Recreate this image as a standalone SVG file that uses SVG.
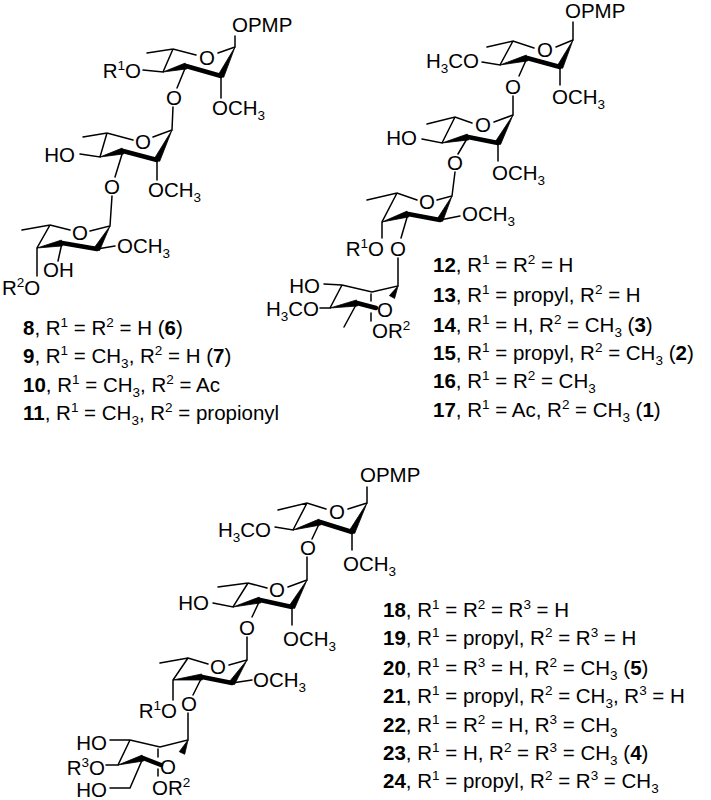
<svg xmlns="http://www.w3.org/2000/svg" width="711" height="800" viewBox="0 0 711 800">
<style>
.b{stroke:#000;stroke-width:1.5;fill:none;stroke-linecap:round}
.k{stroke:#000;stroke-width:4.5;fill:none;stroke-linecap:round}
.w{fill:#000;stroke:#000;stroke-width:0.8;stroke-linejoin:round}
text{font-family:"Liberation Sans",Arial,sans-serif;font-size:20.5px;fill:#000}
.m{text-anchor:middle}
.e{text-anchor:end}
.s{font-size:13.5px}
.n{font-weight:bold}
</style>
<rect width="711" height="800" fill="#fff"/>
<g id="compound-8-11">
<g id="s1-bonds">
<path class="b" d="M235,47V36M235,47L218,53M196,55L173,49L147,53M173,49L163,72L143,70M186,66L177,88M221,76V98"/>
<polygon class="w" points="163,72 186.8,68.9 185.2,63.1"/><path class="k" d="M186,66L221,76"/><polygon class="w" points="235,47 218.3,74.7 223.7,77.3"/>
<path class="b" d="M173,107L172,130L153,137M133,140L107,133L83,137M107,133L100,157L80,154M123,151L115,177M157,160V180"/>
<polygon class="w" points="100,157 123.8,153.9 122.2,148.1"/><path class="k" d="M123,151L157,160"/><polygon class="w" points="172,130 154.3,158.7 159.7,161.3"/>
<path class="b" d="M112,196L110,226L90,231M70,230L50,225L22,230M50,225L37,248V276M62,243L58,261M97,249L115,246"/>
<polygon class="w" points="37,248 62.6,245.9 61.4,240.1"/><path class="k" d="M62,243L97,249"/><polygon class="w" points="110,226 94.4,247.5 99.6,250.5"/>
</g>
<text x="232" y="32">OPMP</text>
<text class="m" x="207" y="64.5">O</text>
<text class="e" x="141" y="78">R<tspan class="s" dy="-8">1</tspan><tspan dy="8">O</tspan></text>
<text class="m" x="174" y="105">O</text>
<text x="212" y="115">OCH<tspan class="s" dy="5">3</tspan></text>
<text class="m" x="143" y="149">O</text>
<text class="e" x="75" y="162">HO</text>
<text class="m" x="112" y="194">O</text>
<text x="148" y="197">OCH<tspan class="s" dy="5">3</tspan></text>
<text class="m" x="80" y="240">O</text>
<text x="117" y="253">OCH<tspan class="s" dy="5">3</tspan></text>
<text x="43" y="277">OH</text>
<text x="2" y="295">R<tspan class="s" dy="-8">2</tspan><tspan dy="8">O</tspan></text>
<text x="23" y="335"><tspan class="n">8</tspan>, R<tspan class="s" dy="-8">1</tspan><tspan dy="8"> = R</tspan><tspan class="s" dy="-8">2</tspan><tspan dy="8"> = H (</tspan><tspan class="n">6</tspan>)</text>
<text x="23" y="363"><tspan class="n">9</tspan>, R<tspan class="s" dy="-8">1</tspan><tspan dy="8"> = CH</tspan><tspan class="s" dy="5">3</tspan><tspan dy="-5">, R</tspan><tspan class="s" dy="-8">2</tspan><tspan dy="8"> = H (</tspan><tspan class="n">7</tspan>)</text>
<text x="23" y="392"><tspan class="n">10</tspan>, R<tspan class="s" dy="-8">1</tspan><tspan dy="8"> = CH</tspan><tspan class="s" dy="5">3</tspan><tspan dy="-5">, R</tspan><tspan class="s" dy="-8">2</tspan><tspan dy="8"> = Ac</tspan></text>
<text x="23" y="420"><tspan class="n">11</tspan>, R<tspan class="s" dy="-8">1</tspan><tspan dy="8"> = CH</tspan><tspan class="s" dy="5">3</tspan><tspan dy="-5">, R</tspan><tspan class="s" dy="-8">2</tspan><tspan dy="8"> = propionyl</tspan></text>
</g>
<g id="compound-12-17">
<g id="s2-bonds">
<path class="b" d="M573,40V22M573,40L556,47M534,48L513,41L487,47M513,41L500,65L482,62M527,58L519,76M560,67V85"/>
<polygon class="w" points="500,65 527.75,60.9 526.25,55.1"/><path class="k" d="M527,58L560,67"/><polygon class="w" points="573,40 557.3,65.7 562.7,68.3"/>
<path class="b" d="M513,96V115L494,122M472,123L455,117L427,124M455,117L442,143L422,139M468,137L458,154M498,143V161"/>
<polygon class="w" points="442,143 468.7,139.9 467.3,134.1"/><path class="k" d="M468,137L498,143"/><polygon class="w" points="513,115 495.4,141.6 500.6,144.4"/>
<path class="b" d="M455,172L452,196L437,200M417,200L397,193L367,200M397,193L382,222V238M408,214L401,238M440,220L460,216"/>
<polygon class="w" points="382,222 408.9,216.9 407.1,211.1"/><path class="k" d="M408,214L440,220"/><polygon class="w" points="452,196 437.3,218.7 442.7,221.3"/>
<path class="b" d="M398,258V286L372,292L342,285L324,284M342,285L330,308L320,308M357,303L344,327M371,294V301M371,313V321"/>
<polygon class="w" points="398,286 389.4,295.6 394.6,298.4"/><polygon class="w" points="330,308 357.5,306 356.5,300"/><path class="k" d="M357,303L376,308"/>
</g>
<text x="565" y="18">OPMP</text>
<text class="m" x="545" y="57">O</text>
<text class="e" x="479" y="68">H<tspan class="s" dy="5">3</tspan><tspan dy="-5">CO</tspan></text>
<text class="m" x="513" y="94">O</text>
<text x="552" y="104">OCH<tspan class="s" dy="5">3</tspan></text>
<text class="m" x="483" y="132">O</text>
<text class="e" x="417" y="145">HO</text>
<text class="m" x="455" y="170">O</text>
<text x="492" y="180">OCH<tspan class="s" dy="5">3</tspan></text>
<text class="m" x="427" y="209">O</text>
<text x="462" y="221">OCH<tspan class="s" dy="5">3</tspan></text>
<text class="e" x="384" y="256">R<tspan class="s" dy="-8">1</tspan><tspan dy="8">O</tspan></text>
<text class="m" x="398" y="256">O</text>
<text class="e" x="320" y="293">HO</text>
<text class="e" x="319" y="316">H<tspan class="s" dy="5">3</tspan><tspan dy="-5">CO</tspan></text>
<text class="m" x="385" y="317">O</text>
<text x="372" y="338">OR<tspan class="s" dy="-8">2</tspan></text>
<text x="433" y="272"><tspan class="n">12</tspan>, R<tspan class="s" dy="-8">1</tspan><tspan dy="8"> = R</tspan><tspan class="s" dy="-8">2</tspan><tspan dy="8"> = H</tspan></text>
<text x="433" y="302"><tspan class="n">13</tspan>, R<tspan class="s" dy="-8">1</tspan><tspan dy="8"> = propyl, R</tspan><tspan class="s" dy="-8">2</tspan><tspan dy="8"> = H</tspan></text>
<text x="433" y="332"><tspan class="n">14</tspan>, R<tspan class="s" dy="-8">1</tspan><tspan dy="8"> = H, R</tspan><tspan class="s" dy="-8">2</tspan><tspan dy="8"> = CH</tspan><tspan class="s" dy="5">3</tspan><tspan dy="-5"> (</tspan><tspan class="n">3</tspan>)</text>
<text x="433" y="360"><tspan class="n">15</tspan>, R<tspan class="s" dy="-8">1</tspan><tspan dy="8"> = propyl, R</tspan><tspan class="s" dy="-8">2</tspan><tspan dy="8"> = CH</tspan><tspan class="s" dy="5">3</tspan><tspan dy="-5"> (</tspan><tspan class="n">2</tspan>)</text>
<text x="433" y="388"><tspan class="n">16</tspan>, R<tspan class="s" dy="-8">1</tspan><tspan dy="8"> = R</tspan><tspan class="s" dy="-8">2</tspan><tspan dy="8"> = CH</tspan><tspan class="s" dy="5">3</tspan></text>
<text x="433" y="417"><tspan class="n">17</tspan>, R<tspan class="s" dy="-8">1</tspan><tspan dy="8"> = Ac, R</tspan><tspan class="s" dy="-8">2</tspan><tspan dy="8"> = CH</tspan><tspan class="s" dy="5">3</tspan><tspan dy="-5"> (</tspan><tspan class="n">1</tspan>)</text>
</g>
<g id="compound-18-24">
<g id="s3-bonds">
<path class="b" d="M367,503V487M367,503L348,509M326,509L307,503L278,510M307,503L293,530L275,527M320,522L312,539M352,532V550"/>
<polygon class="w" points="293,530 320.9,524.9 319.1,519.1"/><path class="k" d="M320,522L352,532"/><polygon class="w" points="367,503 349.3,530.6 354.7,533.4"/>
<path class="b" d="M307,557V580L288,587M267,588L248,583L218,587M248,583L233,607L213,603M260,600L252,617M292,607V625"/>
<polygon class="w" points="233,607 260.75,602.9 259.25,597.1"/><path class="k" d="M260,600L292,607"/><polygon class="w" points="307,580 289.4,605.5 294.6,608.5"/>
<path class="b" d="M247,637V660L229,665M208,664L188,658L160,663M188,658L173,680V700M202,677L193,695M232,683L252,680"/>
<polygon class="w" points="173,680 202.3,680 201.7,674"/><path class="k" d="M202,677L232,683"/><polygon class="w" points="247,660 229.5,681.4 234.5,684.6"/>
<path class="b" d="M188,713V740L160,747L130,740L110,740M130,740L118,765L106,765M143,758L130,788L110,788M158,749V757M158,769V776"/>
<polygon class="w" points="188,740 179.3,751.7 184.7,754.3"/><polygon class="w" points="118,765 143.8,760.9 142.2,755.1"/><path class="k" d="M143,758L161,765"/>
</g>
<text x="360" y="482">OPMP</text>
<text class="m" x="337" y="519">O</text>
<text class="e" x="271" y="537">H<tspan class="s" dy="5">3</tspan><tspan dy="-5">CO</tspan></text>
<text class="m" x="308" y="555">O</text>
<text x="343" y="571">OCH<tspan class="s" dy="5">3</tspan></text>
<text class="m" x="277" y="597">O</text>
<text class="e" x="209" y="610">HO</text>
<text class="m" x="247" y="635">O</text>
<text x="283" y="646">OCH<tspan class="s" dy="5">3</tspan></text>
<text class="m" x="218" y="674">O</text>
<text x="253" y="687">OCH<tspan class="s" dy="5">3</tspan></text>
<text class="e" x="177" y="718">R<tspan class="s" dy="-8">1</tspan><tspan dy="8">O</tspan></text>
<text class="m" x="189" y="711">O</text>
<text class="e" x="107" y="750">HO</text>
<text class="e" x="105" y="775">R<tspan class="s" dy="-8">3</tspan><tspan dy="8">O</tspan></text>
<text class="e" x="107" y="797">HO</text>
<text class="m" x="168" y="774">O</text>
<text x="152" y="795">OR<tspan class="s" dy="-8">2</tspan></text>
<text x="383" y="617"><tspan class="n">18</tspan>, R<tspan class="s" dy="-8">1</tspan><tspan dy="8"> = R</tspan><tspan class="s" dy="-8">2</tspan><tspan dy="8"> = R</tspan><tspan class="s" dy="-8">3</tspan><tspan dy="8"> = H</tspan></text>
<text x="383" y="645"><tspan class="n">19</tspan>, R<tspan class="s" dy="-8">1</tspan><tspan dy="8"> = propyl, R</tspan><tspan class="s" dy="-8">2</tspan><tspan dy="8"> = R</tspan><tspan class="s" dy="-8">3</tspan><tspan dy="8"> = H</tspan></text>
<text x="383" y="675"><tspan class="n">20</tspan>, R<tspan class="s" dy="-8">1</tspan><tspan dy="8"> = R</tspan><tspan class="s" dy="-8">3</tspan><tspan dy="8"> = H, R</tspan><tspan class="s" dy="-8">2</tspan><tspan dy="8"> = CH</tspan><tspan class="s" dy="5">3</tspan><tspan dy="-5"> (</tspan><tspan class="n">5</tspan>)</text>
<text x="383" y="703"><tspan class="n">21</tspan>, R<tspan class="s" dy="-8">1</tspan><tspan dy="8"> = propyl, R</tspan><tspan class="s" dy="-8">2</tspan><tspan dy="8"> = CH</tspan><tspan class="s" dy="5">3</tspan><tspan dy="-5">, R</tspan><tspan class="s" dy="-8">3</tspan><tspan dy="8"> = H</tspan></text>
<text x="383" y="732"><tspan class="n">22</tspan>, R<tspan class="s" dy="-8">1</tspan><tspan dy="8"> = R</tspan><tspan class="s" dy="-8">2</tspan><tspan dy="8"> = H, R</tspan><tspan class="s" dy="-8">3</tspan><tspan dy="8"> = CH</tspan><tspan class="s" dy="5">3</tspan></text>
<text x="383" y="760"><tspan class="n">23</tspan>, R<tspan class="s" dy="-8">1</tspan><tspan dy="8"> = H, R</tspan><tspan class="s" dy="-8">2</tspan><tspan dy="8"> = R</tspan><tspan class="s" dy="-8">3</tspan><tspan dy="8"> = CH</tspan><tspan class="s" dy="5">3</tspan><tspan dy="-5"> (</tspan><tspan class="n">4</tspan>)</text>
<text x="383" y="788"><tspan class="n">24</tspan>, R<tspan class="s" dy="-8">1</tspan><tspan dy="8"> = propyl, R</tspan><tspan class="s" dy="-8">2</tspan><tspan dy="8"> = R</tspan><tspan class="s" dy="-8">3</tspan><tspan dy="8"> = CH</tspan><tspan class="s" dy="5">3</tspan></text>
</g>
</svg>
